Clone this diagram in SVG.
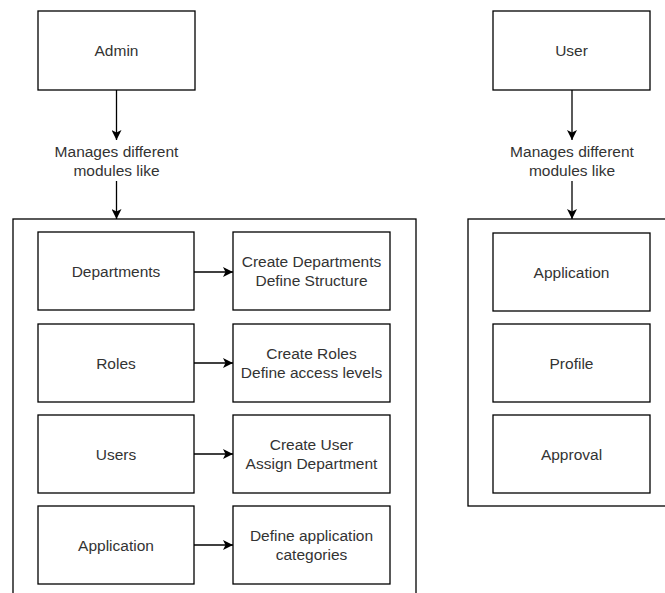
<svg xmlns="http://www.w3.org/2000/svg" width="665" height="593" viewBox="0 0 665 593">
  <style>
    .box { fill: #ffffff; stroke: #000000; stroke-width: 1.3; }
    .frame { fill: none; stroke: #000000; stroke-width: 1.3; }
    .edge { fill: none; stroke: #000000; stroke-width: 1.3; }
    .lbl { font-family: "Liberation Sans", Arial, sans-serif; font-size: 15.5px; fill: #333333; text-anchor: middle; }
  </style>
  <defs>
    <marker id="arrow" viewBox="0 0 10 10" refX="10" refY="5" markerWidth="10" markerHeight="10" markerUnits="userSpaceOnUse" orient="auto">
      <path d="M0,0 L10,5 L0,10 L2.5,5 Z" fill="#000000"/>
    </marker>
  </defs>
  <rect width="665" height="593" fill="#ffffff"/>

  <!-- containers -->
  <g id="admin-modules">
    <rect class="frame" x="13" y="219" width="403" height="420"/>
  </g>
  <g id="user-modules">
    <rect class="frame" x="468" y="219" width="230" height="287"/>
  </g>

  <!-- admin side -->
  <g id="admin">
    <rect class="box" x="38" y="11" width="157" height="79"/>
    <text class="lbl" x="116.5" y="55.5">Admin</text>
  </g>
  <g id="admin-caption">
    <text class="lbl" x="116.5" y="157">Manages different</text>
    <text class="lbl" x="116.5" y="176">modules like</text>
  </g>

  <g id="departments">
    <rect class="box" x="38" y="232" width="156" height="78"/>
    <text class="lbl" x="116" y="276.5">Departments</text>
  </g>
  <g id="departments-detail">
    <rect class="box" x="233" y="232" width="157" height="78"/>
    <text class="lbl" x="311.5" y="267">Create Departments</text>
    <text class="lbl" x="311.5" y="286">Define Structure</text>
  </g>

  <g id="roles">
    <rect class="box" x="38" y="324" width="156" height="78"/>
    <text class="lbl" x="116" y="368.5">Roles</text>
  </g>
  <g id="roles-detail">
    <rect class="box" x="233" y="324" width="157" height="78"/>
    <text class="lbl" x="311.5" y="358.5">Create Roles</text>
    <text class="lbl" x="311.5" y="377.5">Define access levels</text>
  </g>

  <g id="users">
    <rect class="box" x="38" y="415" width="156" height="78"/>
    <text class="lbl" x="116" y="459.5">Users</text>
  </g>
  <g id="users-detail">
    <rect class="box" x="233" y="415" width="157" height="78"/>
    <text class="lbl" x="311.5" y="449.5">Create User</text>
    <text class="lbl" x="311.5" y="468.5">Assign Department</text>
  </g>

  <g id="application">
    <rect class="box" x="38" y="506" width="156" height="78"/>
    <text class="lbl" x="116" y="550.5">Application</text>
  </g>
  <g id="application-detail">
    <rect class="box" x="233" y="506" width="157" height="78"/>
    <text class="lbl" x="311.5" y="540.5">Define application</text>
    <text class="lbl" x="311.5" y="559.5">categories</text>
  </g>

  <!-- user side -->
  <g id="user">
    <rect class="box" x="493" y="11" width="157" height="79"/>
    <text class="lbl" x="571.5" y="55.5">User</text>
  </g>
  <g id="user-caption">
    <text class="lbl" x="572" y="157">Manages different</text>
    <text class="lbl" x="572" y="176">modules like</text>
  </g>

  <g id="user-application">
    <rect class="box" x="493" y="233" width="157" height="78"/>
    <text class="lbl" x="571.5" y="277.5">Application</text>
  </g>
  <g id="user-profile">
    <rect class="box" x="493" y="324" width="157" height="78"/>
    <text class="lbl" x="571.5" y="368.5">Profile</text>
  </g>
  <g id="user-approval">
    <rect class="box" x="493" y="415" width="157" height="78"/>
    <text class="lbl" x="571.5" y="459.5">Approval</text>
  </g>

  <!-- connectors -->
  <g id="connectors">
    <path class="edge" d="M116.5,90 V140" marker-end="url(#arrow)"/>
    <path class="edge" d="M116.5,181 V219" marker-end="url(#arrow)"/>
    <path class="edge" d="M572,90 V140" marker-end="url(#arrow)"/>
    <path class="edge" d="M572,181 V219" marker-end="url(#arrow)"/>
    <path class="edge" d="M194,272 H233" marker-end="url(#arrow)"/>
    <path class="edge" d="M194,363 H233" marker-end="url(#arrow)"/>
    <path class="edge" d="M194,454 H233" marker-end="url(#arrow)"/>
    <path class="edge" d="M194,545 H233" marker-end="url(#arrow)"/>
  </g>
</svg>
